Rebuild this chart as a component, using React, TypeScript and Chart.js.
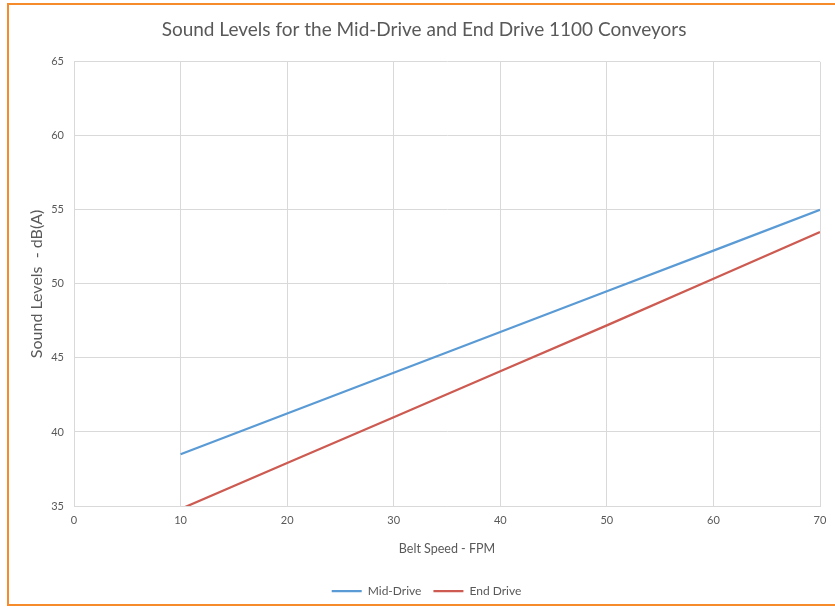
import { useEffect, useRef } from "react";
import { Chart, registerables } from "chart.js";

Chart.register(...registerables);

const chartTitle = "Sound Levels for the Mid-Drive and End Drive 1100 Conveyors";
const xAxisTitle = "Belt Speed - FPM";
const yAxisTitle = "Sound Levels  - dB(A)";
const seriesNames = ["Mid-Drive", "End Drive"];
const beltSpeeds = [10, 20, 30, 40, 50, 60, 70];
const midDrive = [38.5, 41.25, 44.0, 46.75, 49.5, 52.25, 55.0];
const endDrive = [34.8, 37.9, 41.0, 44.1, 47.2, 50.35, 53.5];
const xMin = 0;
const xMax = 70;
const xStep = 10;
const yMin = 35;
const yMax = 65;
const yStep = 5;

const FONT = "Lato, 'Open Sans', sans-serif";
const TEXT = "#595959";
const GRID = "#D9D9D9";

const shiftPlugin = {
  id: "shiftBlocks",
  afterLayout(chart: any) {
    const lg = chart.legend;
    if (lg) {
      lg.left += 6.5;
      lg.right += 6.5;
    }
    const tb = chart.titleBlock;
    if (tb) {
      tb.left += 4;
      tb.right += 4;
    }
  },
};

export default function App() {
  const ref = useRef<HTMLCanvasElement | null>(null);

  useEffect(() => {
    if (!ref.current) return;
    const chart = new Chart(ref.current, {
      type: "line",
      data: {
        datasets: [
          {
            label: seriesNames[0],
            data: beltSpeeds.map((x, i) => ({ x, y: midDrive[i] })),
            borderColor: "#5B9BD5",
            backgroundColor: "#5B9BD5",
            borderWidth: 2.25,
            pointRadius: 0,
            tension: 0,
          },
          {
            label: seriesNames[1],
            data: beltSpeeds.map((x, i) => ({ x, y: endDrive[i] })),
            borderColor: "#CD5B52",
            backgroundColor: "#CD5B52",
            borderWidth: 2.25,
            pointRadius: 0,
            tension: 0,
          },
        ],
      },
      plugins: [shiftPlugin],
      options: {
        responsive: false,
        animation: false,
        layout: { padding: { left: 20, right: 15, top: 0, bottom: 0 } },
        plugins: {
          title: {
            display: true,
            text: chartTitle,
            color: TEXT,
            font: { family: FONT, size: 19, weight: "normal" },
            padding: { top: 18, bottom: 21 },
          },
          legend: {
            display: true,
            position: "bottom",
            labels: {
              color: TEXT,
              font: { family: FONT, size: 12 },
              usePointStyle: true,
              pointStyleWidth: 30,
              pointStyle: "line",
              padding: 12,
            },
          },
          tooltip: { enabled: false },
        },
        scales: {
          x: {
            type: "linear",
            min: xMin,
            max: xMax,
            ticks: {
              stepSize: xStep,
              color: TEXT,
              font: { family: FONT, size: 11 },
              padding: 8,
              maxRotation: 0,
            },
            grid: { color: GRID, lineWidth: 1, drawTicks: false },
            border: { color: GRID, width: 1 },
            title: {
              display: true,
              text: xAxisTitle,
              color: TEXT,
              font: { family: FONT, size: 12.5 },
              padding: { top: 6, bottom: 17 },
            },
            afterFit: (s: any) => {
              s.height = 67;
            },
          },
          y: {
            type: "linear",
            min: yMin,
            max: yMax,
            ticks: {
              stepSize: yStep,
              color: TEXT,
              font: { family: FONT, size: 11 },
              padding: 10,
            },
            grid: { color: GRID, lineWidth: 1, drawTicks: false },
            border: { color: GRID, width: 1 },
            title: {
              display: true,
              text: yAxisTitle,
              color: TEXT,
              font: { family: FONT, size: 16 },
              padding: { top: 7, bottom: 6 },
            },
            afterFit: (s: any) => {
              s.width = 54;
            },
          },
        },
      },
    });
    return () => chart.destroy();
  }, []);

  return (
    <div
      style={{
        position: "absolute",
        left: 0,
        top: 0,
        width: 835,
        height: 607,
        overflow: "hidden",
        background: "#fff",
      }}
    >
      <canvas ref={ref} width={835} height={607} style={{ position: "absolute", left: 0, top: 0 }} />
      <div
        style={{
          position: "absolute",
          left: 7,
          top: 3,
          width: 840,
          height: 603,
          boxSizing: "border-box",
          border: "2px solid #F58B2B",
          pointerEvents: "none",
        }}
      />
    </div>
  );
}
